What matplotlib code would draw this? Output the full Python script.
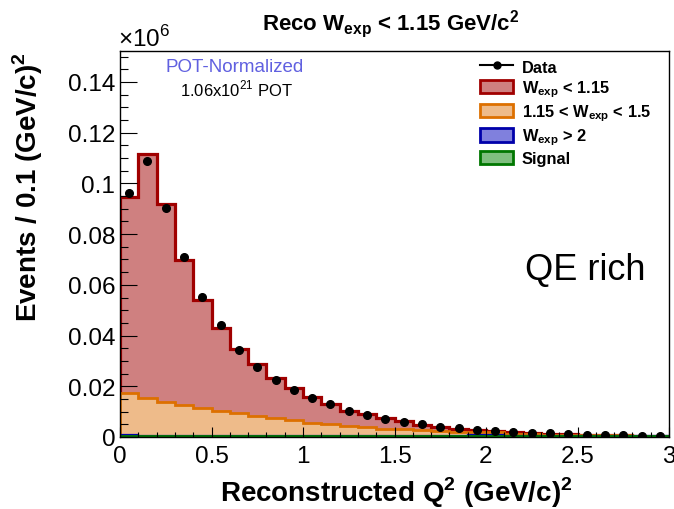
import matplotlib.pyplot as plt
import numpy as np
from matplotlib.patches import Patch
from matplotlib.lines import Line2D
from matplotlib.ticker import MultipleLocator, FormatStrFormatter

plt.rcParams['font.family'] = ['Liberation Sans', 'DejaVu Sans']
plt.rcParams['mathtext.fontset'] = 'custom'
plt.rcParams['mathtext.rm'] = 'Liberation Sans'
plt.rcParams['mathtext.bf'] = 'Liberation Sans:bold'

# Q^2 binning, 0.1 (GeV/c)^2 wide
edges = np.round(np.arange(0, 3.01, 0.1), 2)
centers = 0.5 * (edges[:-1] + edges[1:])

# events per bin, in units of 10^6
data = [0.0962, 0.1087, 0.0903, 0.0710, 0.0552, 0.0442, 0.0343, 0.0277, 0.0226, 0.0185,
        0.0155, 0.0130, 0.0104, 0.0087, 0.0071, 0.0058, 0.0050, 0.0041, 0.0034, 0.0029,
        0.0023, 0.0020, 0.0017, 0.0014, 0.0012, 0.0009, 0.0008, 0.0007, 0.0005, 0.0005]

mc_total = [0.0947, 0.1116, 0.0918, 0.0699, 0.0540, 0.0429, 0.0347, 0.0288, 0.0231, 0.0192,
            0.0159, 0.0129, 0.0104, 0.0089, 0.0074, 0.0062, 0.0048, 0.0038, 0.0031, 0.0026,
            0.0022, 0.0018, 0.0015, 0.0012, 0.0010, 0.0008, 0.0007, 0.0006, 0.0005, 0.0004]

w_mid = [0.0165, 0.0152, 0.0135, 0.0122, 0.0112, 0.0101, 0.0091, 0.0081, 0.0070, 0.0063,
         0.0054, 0.0048, 0.0041, 0.0035, 0.0030, 0.0027, 0.0023, 0.0019, 0.0016, 0.0013,
         0.0011, 0.0009, 0.0007, 0.0006, 0.0005, 0.0004, 0.0003, 0.0003, 0.0002, 0.0002]

w_high = [0.0005, 0.0001, 0.0001, 0.0001, 0.0001, 0.0001, 0.0001, 0.0001, 0.0001, 0.0001,
          0.0001, 0.0001, 0.0001, 0.0001, 0.0001, 0.0001, 0.0001, 0.0001, 0.0001, 0.0005,
          0.0005, 0.0001, 0.0001, 0.0001, 0.0001, 0.0001, 0.0001, 0.0001, 0.0001, 0.0001]

signal = [0.0002] * 30

w_low = [t - m - h - s for t, m, h, s in zip(mc_total, w_mid, w_high, signal)]

# stack bottom-up: signal, W>2, 1.15<W<1.5, W<1.15
comps = [
    (signal, '#7fbf7f', '#007700', 'Signal'),
    (w_high, '#8080dd', '#0000aa', r'$\mathbf{W_{exp}}$ > 2'),
    (w_mid, '#eebb8a', '#dd7000', r'1.15 < $\mathbf{W_{exp}}$ < 1.5'),
    (w_low, '#cf8080', '#a00000', r'$\mathbf{W_{exp}}$ < 1.15'),
]

fig = plt.figure(figsize=(6.74, 5.10), dpi=100)
ax = fig.add_axes([120 / 674, 72 / 510, 549 / 674, 386 / 510])

cum = np.cumsum([np.array(c[0]) for c in comps], axis=0)
lws = [2.0, 1.6, 2.0, 2.3]
# draw from the top of the stack down so lower pieces sit in front
for i in range(len(comps) - 1, -1, -1):
    vals, fc, ec, _ = comps[i]
    ax.stairs(cum[i], edges, baseline=0, fill=True, color=fc, lw=0)
    ax.stairs(cum[i], edges, baseline=0, fill=False, color=ec, lw=lws[i])

ax.plot(centers, data, 'o', color='black', ms=5.5, zorder=5)

ax.set_xlim(0, 3)
ax.set_ylim(0, 0.1522)

ax.xaxis.set_major_locator(MultipleLocator(0.5))
ax.xaxis.set_minor_locator(MultipleLocator(0.1))
ax.yaxis.set_major_locator(MultipleLocator(0.02))
ax.yaxis.set_minor_locator(MultipleLocator(0.005))
ax.xaxis.set_major_formatter(FormatStrFormatter('%g'))
ax.yaxis.set_major_formatter(FormatStrFormatter('%g'))
ax.tick_params(axis='x', which='major', direction='in', length=7, width=0.8, labelsize=17.5, pad=6)
ax.tick_params(axis='x', which='minor', direction='in', length=3.5, width=0.8)
ax.tick_params(axis='y', which='major', direction='in', length=12, width=0.8, labelsize=17.5, pad=3.5)
ax.tick_params(axis='y', which='minor', direction='in', length=6, width=0.8)
for s in ax.spines.values():
    s.set_linewidth(1.0)

ax.set_xlabel(r'Reconstructed Q$^{\mathbf{2}}$ (GeV/c)$^{\mathbf{2}}$', fontsize=20,
              fontweight='bold', va='center')
ax.xaxis.set_label_coords(0.504, -0.142)
ax.set_ylabel(r'Events / 0.1 (GeV/c)$^{\mathbf{2}}$', fontsize=20, fontweight='bold', va='center')
ax.yaxis.set_label_coords(-0.168, 0.65)
fig.text(0.579, 1 - 30 / 510, r'Reco $\mathbf{W_{exp}}$ < 1.15 GeV/c$^{\mathbf{2}}$', fontsize=16,
         fontweight='bold', ha='center', va='baseline')

ax.text(-0.004, 1.0, r'$\times$10$^6$', transform=ax.transAxes, fontsize=17.5,
        ha='left', va='bottom')
ax.text(0.209, 0.961, 'POT-Normalized', transform=ax.transAxes, fontsize=13.5,
        color='#6060e0', ha='center', va='center')
ax.text(0.212, 0.904, r'1.06x10$^{21}$ POT', transform=ax.transAxes, fontsize=12,
        ha='center', va='center')
ax.text(0.847, 0.435, 'QE rich', transform=ax.transAxes, fontsize=26,
        ha='center', va='center')

handles = [Line2D([], [], color='black', marker='o', ms=5, lw=1.5)]
labels = ['Data']
for vals, fc, ec, lab in reversed(comps):
    handles.append(Patch(facecolor=fc, edgecolor=ec, lw=2))
    labels.append(lab)
leg = ax.legend(handles, labels, loc='upper left', bbox_to_anchor=(0.656, 0.979),
                frameon=False, prop={'weight': 'bold', 'size': 11.8},
                borderpad=0, borderaxespad=0,
                handlelength=2.0, handleheight=0.9, labelspacing=0.22, handletextpad=0.55)

fig.savefig('out.png', dpi=100)
